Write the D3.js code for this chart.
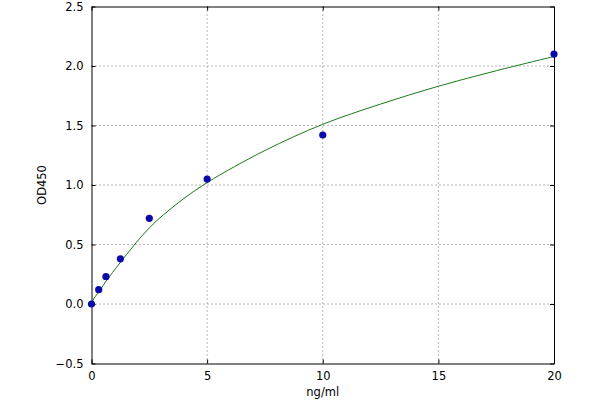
<!DOCTYPE html>
<html>
<head>
<meta charset="utf-8">
<script src="https://cdn.jsdelivr.net/npm/d3@7"></script>
<style>
  body { margin: 0; background: #fff; }
  text { font-family: "DejaVu Sans", sans-serif; }
</style>
</head>
<body>
<div class="chart"></div>
<script>
// standard points
const conc = [0, 0.3125, 0.625, 1.25, 2.5, 5, 10, 20]
const od = [0.0, 0.12, 0.23, 0.38, 0.72, 1.05, 1.42, 2.1]

// fitted curve
const fitX = [0, 0.05, 0.15, 0.3125, 0.625, 1.25, 2.5, 3.75, 5, 7.5, 10, 12.5, 15, 17.5, 20]
const fitY = [0, 0.025, 0.06, 0.10, 0.19, 0.35, 0.64, 0.85, 1.02, 1.29, 1.51, 1.68, 1.83, 1.96, 2.08]

const xTicks = [0, 5, 10, 15, 20]
const yTicks = [-0.5, 0.0, 0.5, 1.0, 1.5, 2.0, 2.5]

let margin = {top: 6.5, bottom: 36.5, left: 91.5, right: 46}
let w = 600 - margin.left - margin.right
let h = 400 - margin.top - margin.bottom

const svg = d3.select(".chart")
    .append("svg")
    .attr("width", 600)
    .attr("height", 400)
    .append("g")
    .attr("transform", `translate(${margin.left}, ${margin.top})`)

const xScale = d3.scaleLinear().domain([0, 20]).range([0, w])
const yScale = d3.scaleLinear().domain([-0.5, 2.5]).range([h, 0])

// grid
svg.append("g")
    .selectAll("line")
    .data(xTicks.slice(1, -1))
    .join("line")
    .attr("x1", d => xScale(d)).attr("x2", d => xScale(d))
    .attr("y1", 0).attr("y2", h)
    .attr("stroke", "#333").attr("stroke-width", 0.7)
    .attr("stroke-dasharray", "1,3")

svg.append("g")
    .selectAll("line")
    .data(yTicks.slice(1, -1))
    .join("line")
    .attr("y1", d => yScale(d)).attr("y2", d => yScale(d))
    .attr("x1", 0).attr("x2", w)
    .attr("stroke", "#333").attr("stroke-width", 0.7)
    .attr("stroke-dasharray", "1,3")

// axes, ticks pointing inward
const fmtY = d => d3.format(".1f")(d).replace("-", "\u2212")

svg.append("g")
    .attr("class", "axis x-axis")
    .attr("transform", `translate(0, ${h})`)
    .call(d3.axisBottom(xScale).tickValues(xTicks).tickSizeInner(-4).tickSizeOuter(0).tickPadding(8))

svg.append("g")
    .attr("class", "axis")
    .call(d3.axisTop(xScale).tickValues(xTicks).tickSizeInner(-4).tickSizeOuter(0).tickFormat(""))

svg.append("g")
    .attr("class", "axis y-axis")
    .call(d3.axisLeft(yScale).tickValues(yTicks).tickSizeInner(-4).tickSizeOuter(0).tickPadding(8).tickFormat(fmtY))

svg.append("g")
    .attr("class", "axis")
    .attr("transform", `translate(${w}, 0)`)
    .call(d3.axisRight(yScale).tickValues(yTicks).tickSizeInner(-4).tickSizeOuter(0).tickFormat(""))

svg.selectAll(".axis .domain").attr("stroke", "#000").attr("stroke-width", 1)
svg.selectAll(".axis text")
    .attr("font-family", "DejaVu Sans")
    .attr("font-size", 11.5)
    .attr("fill", "#000")

// fitted curve
const fit = fitX.map((x, i) => ({x: x, y: fitY[i]}))
svg.append("path")
    .datum(fit)
    .attr("fill", "none")
    .attr("stroke", "#1a7a1a")
    .attr("stroke-width", 1)
    .attr("d", d3.line().x(d => xScale(d.x)).y(d => yScale(d.y)).curve(d3.curveCatmullRom.alpha(0.5)))

// points
const pts = conc.map((c, i) => ({x: c, y: od[i]}))
svg.append("g")
    .selectAll("circle")
    .data(pts)
    .join("circle")
    .attr("cx", d => xScale(d.x))
    .attr("cy", d => yScale(d.y))
    .attr("r", 3.6)
    .attr("fill", "#0a0aa8")

// labels
svg.append("text")
    .attr("x", w / 2)
    .attr("y", h + 32)
    .attr("text-anchor", "middle")
    .attr("font-size", 11.5)
    .attr("fill", "#000")
    .text("ng/ml")

svg.append("text")
    .attr("transform", `translate(${-46}, ${h / 2}) rotate(-90)`)
    .attr("text-anchor", "middle")
    .attr("font-size", 11.5)
    .attr("fill", "#000")
    .text("OD450")
</script>
</body>
</html>
